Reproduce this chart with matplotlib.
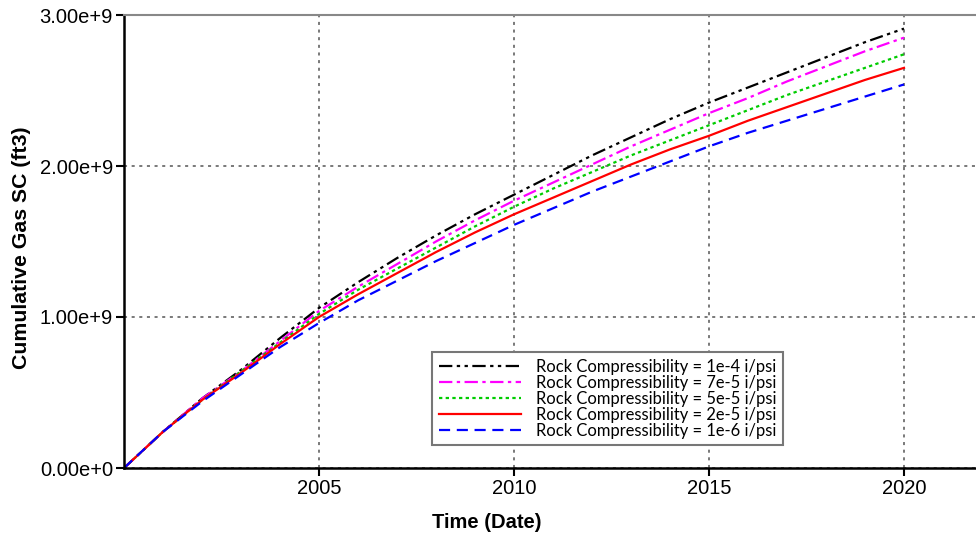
import matplotlib
matplotlib.use("Agg")
import matplotlib.pyplot as plt

years = [2000, 2001, 2002, 2003, 2004, 2005, 2006, 2007, 2008, 2009, 2010,
         2011, 2012, 2013, 2014, 2015, 2016, 2017, 2018, 2019, 2020]

labels = ["Rock Compressibility = 1e-4 i/psi",
          "Rock Compressibility = 7e-5 i/psi",
          "Rock Compressibility = 5e-5 i/psi",
          "Rock Compressibility = 2e-5 i/psi",
          "Rock Compressibility = 1e-6 i/psi"]

# cumulative gas, units of 1e9 ft3
cg_1e4 = [0, 0.24, 0.46, 0.65, 0.86, 1.06, 1.23, 1.39, 1.54, 1.68, 1.81,
          1.94, 2.07, 2.19, 2.31, 2.42, 2.52, 2.62, 2.72, 2.82, 2.91]
cg_7e5 = [0, 0.24, 0.46, 0.64, 0.84, 1.04, 1.20, 1.35, 1.50, 1.64, 1.77,
          1.89, 2.01, 2.13, 2.24, 2.35, 2.45, 2.56, 2.66, 2.76, 2.85]
cg_5e5 = [0, 0.24, 0.45, 0.64, 0.83, 1.02, 1.18, 1.32, 1.46, 1.60, 1.73,
          1.85, 1.96, 2.07, 2.17, 2.27, 2.37, 2.47, 2.56, 2.65, 2.74]
cg_2e5 = [0, 0.24, 0.45, 0.63, 0.82, 1.00, 1.15, 1.29, 1.43, 1.56, 1.68,
          1.79, 1.90, 2.01, 2.11, 2.20, 2.30, 2.39, 2.48, 2.57, 2.65]
cg_1e6 = [0, 0.24, 0.44, 0.62, 0.80, 0.96, 1.11, 1.24, 1.37, 1.49, 1.61,
          1.72, 1.83, 1.93, 2.03, 2.13, 2.22, 2.30, 2.38, 2.46, 2.54]

series = [cg_1e4, cg_7e5, cg_5e5, cg_2e5, cg_1e6]
colors = ["black", "#ff00ff", "#00cc00", "red", "blue"]
styles = [(0, (6, 2, 1.5, 2, 1.5, 2)), (0, (6, 2, 1.5, 2)), (0, (1.5, 1.5)), "-", (0, (5, 3))]

y_ticks = [0, 1e9, 2e9, 3e9]
y_ticklabels = ["0.00e+0", "1.00e+9", "2.00e+9", "3.00e+9"]
x_ticks = [2005, 2010, 2015, 2020]

W, H = 976, 540
fig = plt.figure(figsize=(W / 100, H / 100), dpi=100)
left, top, bottom = 124, 15, 468
axw = W - left + 2
ax = fig.add_axes([left / W, 1 - bottom / H, axw / W, (bottom - top) / H])

for vals, c, ls, lab in zip(series, colors, styles, labels):
    ax.plot(years, [v * 1e9 for v in vals], color=c, linestyle=ls, linewidth=1.6, label=lab)

ax.set_xlim(2000, 2000 + axw / 39.0)
ax.set_ylim(0, 3e9)
ax.set_xticks(x_ticks)
ax.set_xticklabels([str(x) for x in x_ticks], fontsize=14.5, family="Liberation Sans")
ax.set_yticks(y_ticks)
ax.set_yticklabels(y_ticklabels, fontsize=14.5, family="Liberation Sans")
ax.tick_params(direction="out", length=6, width=1.5, colors="black", pad=2)

ax.grid(True, linestyle=(0, (2, 3)), color="#555555", linewidth=1.1)
ax.set_axisbelow(True)

ax.spines["left"].set_linewidth(1.8)
ax.spines["bottom"].set_linewidth(1.8)
ax.spines["top"].set_color("#888888")
ax.spines["top"].set_linewidth(1.5)
ax.spines["right"].set_visible(False)

ax.set_xlabel("Time (Date)", fontsize=14.5, fontweight="bold", family="Liberation Sans")
ax.xaxis.set_label_coords((487 - left) / axw, -(522 - bottom) / (bottom - top), transform=ax.transAxes)
ax.set_ylabel("Cumulative Gas SC (ft3)", fontsize=15.3, fontweight="bold", family="Liberation Sans")
ax.yaxis.set_label_coords(-(left - 22) / axw, (bottom - 248) / (bottom - top), transform=ax.transAxes)
ax.xaxis.label.set_va("center")
ax.yaxis.label.set_va("center")

leg = ax.legend(loc="upper left", bbox_to_anchor=((432 - left) / axw, 1 - (352 - top) / (bottom - top)),
                prop={"family": "Lato", "size": 11.9}, handlelength=5.0, handletextpad=0.9,
                labelspacing=0.0, borderpad=0.4, fancybox=False, framealpha=1, borderaxespad=0)
leg.get_frame().set_edgecolor("#777777")
leg.get_frame().set_linewidth(1.5)

fig.savefig("out.png", dpi=100)
